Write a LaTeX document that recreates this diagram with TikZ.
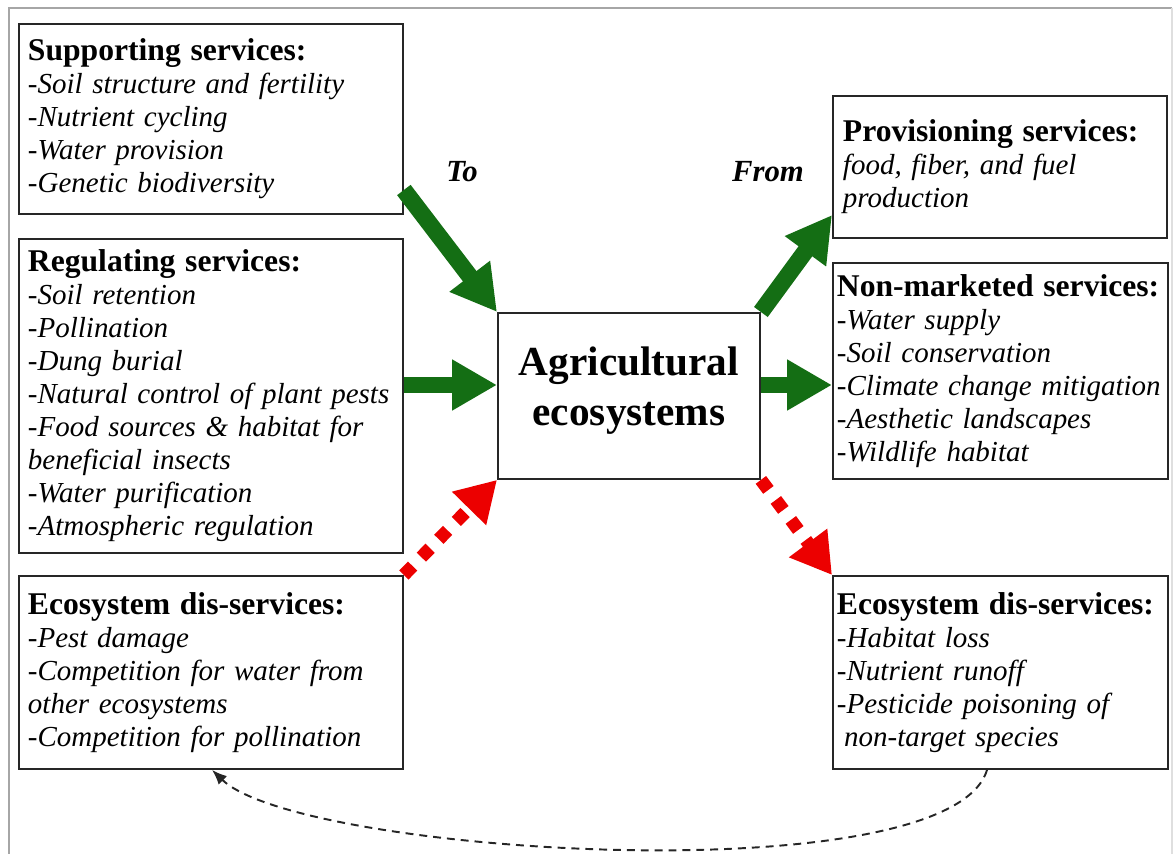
\documentclass[tikz,border=0pt]{standalone}
\usepackage{fontspec}
\setmainfont{Liberation Serif}
\usetikzlibrary{arrows.meta}
\definecolor{svcgreen}{RGB}{20,110,20}
\definecolor{dsred}{RGB}{236,0,0}
\newcommand{\hd}[1]{{\upshape\bfseries\fontsize{18}{18.8}\selectfont #1}}
\begin{document}
\begin{tikzpicture}[x=0.02cm,y=-0.02cm]
        \useasboundingbox (0,0) rectangle (1175,854);
        \draw[gray!70, line width=1pt] (9,900) -- (9,8) -- (1172,8);
        \draw[gray!25, line width=0.8pt] (1172,8) -- (1172,900);
        \begin{scope}[every node/.style={draw=black!85, line width=1.1pt, anchor=north west, align=left, inner xsep=0.18cm, inner ysep=0pt, font=\fontsize{16.5}{18.8}\selectfont\itshape}]
          \node[text width=7.32cm, minimum height=3.8cm] (supp) at (18,23) {\hd{Supporting services:}\\-Soil structure and fertility\\-Nutrient cycling\\-Water provision\\-Genetic biodiversity};
          \node[text width=7.32cm, minimum height=6.28cm] (reg) at (18,238) {\hd{Regulating services:}\\-Soil retention\\-Pollination\\-Dung burial\\-Natural control of plant pests\\-Food sources \& habitat for\\beneficial insects\\-Water purification\\-Atmospheric regulation};
          \node[text width=7.32cm, minimum height=3.86cm] (disL) at (18,575) {\hd{Ecosystem dis-services:}\\-Pest damage\\-Competition for water from\\other ecosystems\\-Competition for pollination};
          \node[inner xsep=0.2cm, text width=6.28cm, minimum height=2.84cm] (prov) at (832,95) {\hd{Provisioning services:}\\food, fiber, and fuel\\production};
          \node[inner xsep=0.08cm, text width=6.54cm, minimum height=4.32cm] (nonm) at (832,262) {\hd{Non-marketed services:}\\-Water supply\\-Soil conservation\\-Climate change mitigation\\-Aesthetic landscapes\\-Wildlife habitat};
          \node[inner xsep=0.08cm, text width=6.54cm, minimum height=3.86cm] (disR) at (832,575) {\hd{Ecosystem dis-services:}\\-Habitat loss\\-Nutrient runoff\\-Pesticide poisoning of\\\hspace*{0.25em}non-target species};
          \node[align=center, inner sep=0pt, minimum width=5.24cm, minimum height=3.32cm, font=\fontsize{23.5}{28.4}\selectfont\bfseries] (agri) at (497,312) {Agricultural\\ecosystems\rule[-0.4cm]{0pt}{0pt}};
        \end{scope}
        \node[font=\fontsize{17.5}{20}\selectfont\bfseries\itshape] (to) at (462,172) {To};
        \node[font=\fontsize{17.5}{20}\selectfont\bfseries\itshape] (from) at (768,172) {From};
        \begin{scope}[every edge/.style={draw=svcgreen, line width=0.34cm, -{Triangle[length=0.9cm,width=0.96cm]}}]
          \path (supp.east |- 0,190) edge (agri.north west);
          \path (reg.east |- 0,385) edge (agri.west |- 0,385);
          \path (agri.north east) edge (prov.west |- 0,215);
          \path (agri.east |- 0,385) edge (nonm.west |- 0,385);
        \end{scope}
        \begin{scope}[every edge/.style={draw=dsred, line width=0.26cm, dash pattern=on 0.25cm off 0.25cm, -{Triangle[length=0.8cm,width=0.9cm]}}]
          \path (disL.north east) edge (agri.south west);
          \path (agri.south east) edge (disR.north west);
        \end{scope}
        \draw[black!85, line width=1.1pt, dash pattern=on 4.5pt off 3.4pt, -{Latex[length=0.3cm,width=0.24cm]}] (disR.south -| 987,0) .. controls (950,895) and (300,855) .. (disL.south -| 212,0);
\end{tikzpicture}
\end{document}
